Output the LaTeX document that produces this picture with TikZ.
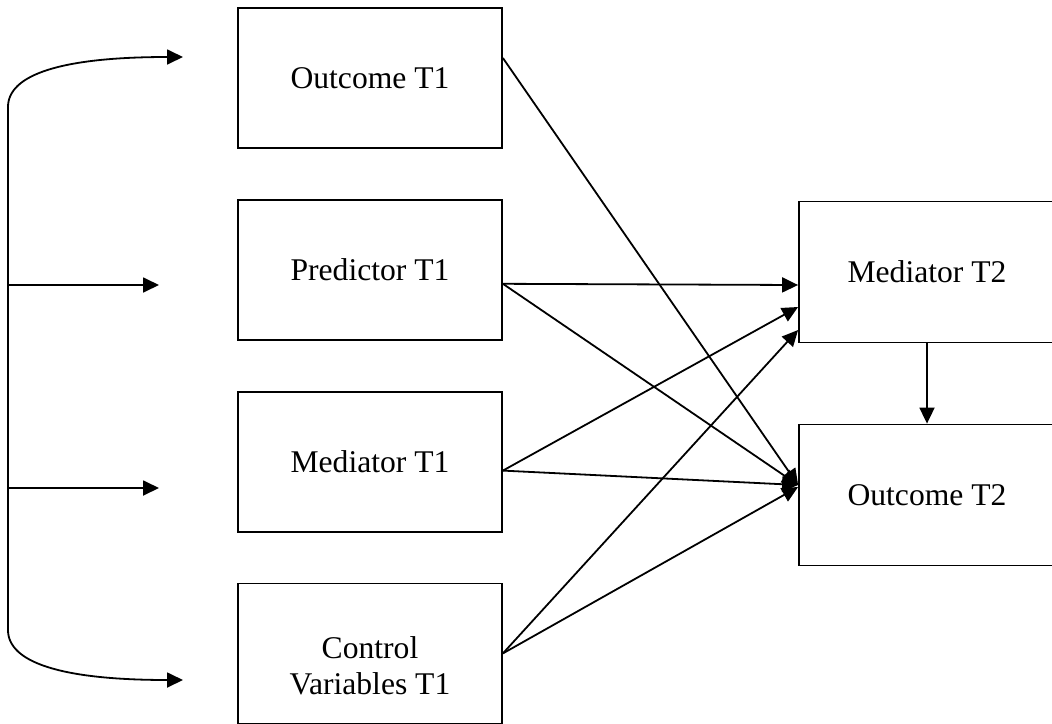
\documentclass[tikz,border=0pt]{standalone}
\usepackage{fontspec}
\setmainfont{Liberation Serif}
\usepackage{tikz}
\usetikzlibrary{arrows.meta, positioning}

\begin{document}
\begin{tikzpicture}[
  x=1pt, y=-1pt,
  node distance=50pt and 40pt,
  every node/.style={font=\fontsize{31.6}{36}\selectfont},
  box/.style={rectangle, draw, line width=1.8pt, minimum width=264pt,
              minimum height=140pt, align=center, inner sep=0pt},
  rbox/.style={box, minimum width=256pt, minimum height=141pt},
  arrow/.style={-{Triangle[length=16pt, width=15pt]}, line width=1.8pt}
]
\useasboundingbox (0,0) rectangle (1052,723);

%--- Time 1 (left column) ---%
\node[box] (out1) at (370,78) {Outcome T1};
\node[box, below=of out1]  (pred1) {Predictor T1};
\node[box, below=of pred1] (med1)  {Mediator T1};
\node[box, below=of med1]  (ctrl1) {};
\node[align=center, yshift=-12pt] (ctrl1txt) at (ctrl1) {Control\\Variables T1};

%--- Time 2 (right column) ---%
\node[rbox] (med2) at (927,272) {Mediator T2};
\node[rbox] (out2) at (927,495) {Outcome T2};

%--- Bracket (correlations at T1) ---%
\coordinate (brtop) at (8,107);
\coordinate (brbot) at (8,630);
\coordinate (tipa)  at (183,57);
\coordinate (tipd)  at (183,680);
\coordinate (brb) at (8,285);   \coordinate (tipb) at (159,285);
\coordinate (brc) at (8,488);   \coordinate (tipc) at (159,488);

\draw[arrow] (brtop) .. controls (8,75) and (60,57) .. (tipa);
\draw[line width=1.8pt] (brtop) -- (brbot);
\draw[arrow] (brbot) .. controls (8,662) and (60,680) .. (tipd);
\draw[arrow] (brb) -- (tipb);
\draw[arrow] (brc) -- (tipc);

%--- Paths T1 -> T2 ---%
\draw[arrow] ([yshift=20pt]out1.east)  -- ([yshift=10pt]out2.west);
\draw[arrow] ([yshift=-14pt]pred1.east) -- ([yshift=-13pt]med2.west);
\draw[arrow] ([yshift=-14pt]pred1.east) -- ([yshift=10pt]out2.west);
\draw[arrow] ([yshift=-9pt]med1.east)  -- ([yshift=-35pt]med2.west);
\draw[arrow] ([yshift=-9pt]med1.east)  -- ([yshift=10pt]out2.west);
\draw[arrow] (ctrl1.east) -- ([yshift=-58pt]med2.west);
\draw[arrow] (ctrl1.east) -- ([yshift=8pt]out2.west);

%--- Mediator -> Outcome at T2 ---%
\draw[arrow] (med2) -- (out2);

\end{tikzpicture}
\end{document}
